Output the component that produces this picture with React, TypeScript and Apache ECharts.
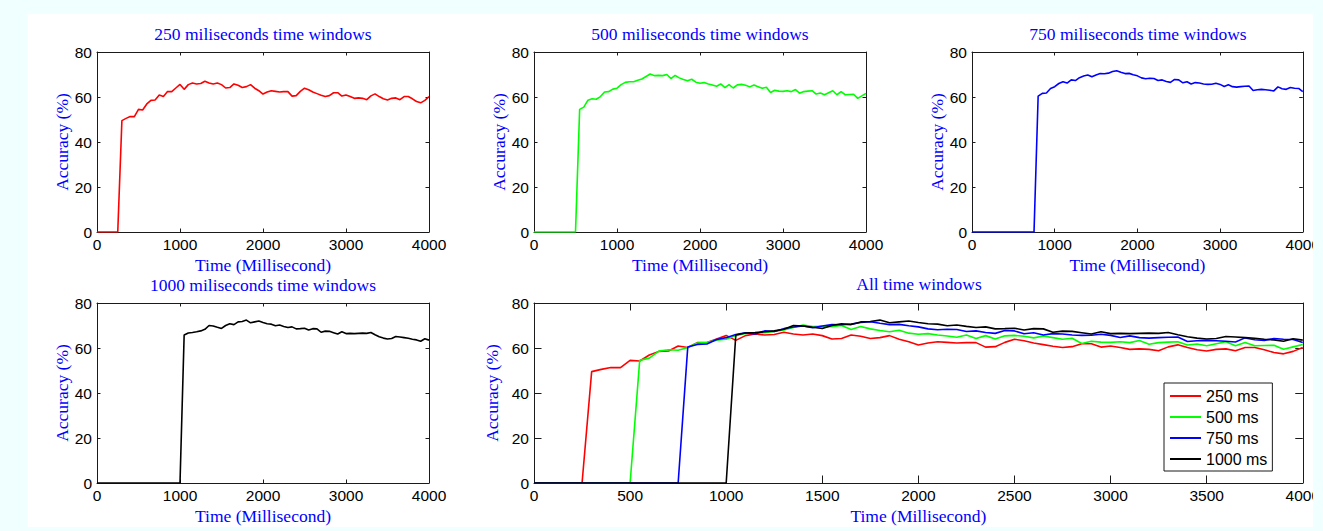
import React, { useEffect, useRef } from "react";
import * as echarts from "echarts";

// ---------- data ----------
const TIME = [
  0, 50, 100, 150, 200, 250, 300, 350, 400, 450,
  500, 550, 600, 650, 700, 750, 800, 850, 900, 950,
  1000, 1050, 1100, 1150, 1200, 1250, 1300, 1350, 1400, 1450,
  1500, 1550, 1600, 1650, 1700, 1750, 1800, 1850, 1900, 1950,
  2000, 2050, 2100, 2150, 2200, 2250, 2300, 2350, 2400, 2450,
  2500, 2550, 2600, 2650, 2700, 2750, 2800, 2850, 2900, 2950,
  3000, 3050, 3100, 3150, 3200, 3250, 3300, 3350, 3400, 3450,
  3500, 3550, 3600, 3650, 3700, 3750, 3800, 3850, 3900, 3950,
  4000,
];

const ACC_250 = [
  0, 0, 0, 0, 0, 0, 49.5, 50.5, 51.3, 51.3,
  54.5, 54.2, 56.9, 58.5, 58.7, 60.9, 60.2, 62.4, 62.4, 64.0,
  65.6, 63.4, 65.5, 66.2, 65.8, 66.0, 67.0, 66.2, 65.8, 66.2,
  65.5, 64.0, 64.2, 65.8, 65.2, 64.2, 64.6, 65.5, 63.9, 62.8,
  61.3, 62.2, 62.8, 62.5, 62.2, 62.4, 62.4, 60.4, 60.6, 62.5,
  63.9, 63.2, 62.2, 61.5, 60.8, 60.2, 60.6, 61.9, 61.9, 60.4,
  60.9, 60.2, 59.4, 59.6, 59.4, 58.8, 60.5, 61.4, 60.2, 59.2,
  58.7, 59.4, 59.6, 58.8, 60.2, 60.2, 59.2, 58.0, 57.4, 58.5,
  60.2,
];

const ACC_500 = [
  0, 0, 0, 0, 0, 0, 0, 0, 0, 0,
  0, 54.5, 55.5, 58.6, 59.2, 59.0, 60.2, 62.2, 62.4, 63.5,
  63.9, 65.5, 66.5, 66.8, 66.8, 67.4, 68.0, 69.1, 70.2, 69.5,
  69.6, 69.5, 70.0, 68.2, 69.6, 68.5, 67.8, 67.2, 67.9, 66.6,
  66.1, 66.4, 65.8, 65.3, 64.8, 65.8, 64.2, 65.5, 64.0, 65.4,
  65.6, 65.2, 64.5, 65.3, 64.6, 63.9, 64.3, 62.0, 63.0, 62.6,
  62.5, 62.8, 62.4, 63.3, 61.7, 62.4, 62.6, 62.8, 61.3, 61.8,
  61.0, 61.9, 62.8, 61.0, 62.4, 61.0, 61.1, 61.2, 59.4, 60.5,
  61.6,
];

const ACC_750 = [
  0, 0, 0, 0, 0, 0, 0, 0, 0, 0,
  0, 0, 0, 0, 0, 0, 60.4, 61.6, 61.8, 63.8,
  64.6, 66.0, 66.8, 66.2, 67.6, 67.3, 68.6, 69.3, 69.8, 69.0,
  69.8, 70.4, 70.3, 70.6, 71.3, 71.7, 71.0, 70.4, 70.5, 69.9,
  69.4, 68.5, 68.1, 68.3, 68.2, 67.3, 67.6, 66.9, 66.5, 67.8,
  67.6, 66.3, 66.8, 65.8, 66.4, 66.2, 65.8, 65.6, 65.7, 66.1,
  65.6, 64.7, 65.4, 64.6, 64.4, 64.6, 64.8, 64.9, 62.9, 63.2,
  63.4, 63.2, 63.0, 62.7, 64.5, 63.7, 63.4, 64.2, 63.9, 63.8,
  62.4,
];

const ACC_1000 = [
  0, 0, 0, 0, 0, 0, 0, 0, 0, 0,
  0, 0, 0, 0, 0, 0, 0, 0, 0, 0,
  0, 65.8, 66.7, 66.9, 67.2, 67.6, 68.3, 70.0, 69.8, 69.2,
  68.7, 70.0, 70.8, 70.4, 71.6, 71.8, 72.4, 71.2, 71.6, 72.0,
  71.3, 70.8, 70.6, 69.9, 70.2, 69.6, 69.1, 69.4, 68.5, 68.6,
  68.8, 68.0, 68.6, 68.5, 67.0, 67.5, 67.4, 66.8, 66.2, 67.2,
  66.4, 66.5, 66.4, 66.5, 66.6, 66.5, 66.9, 65.9, 65.0, 64.4,
  64.0, 64.2, 65.1, 64.9, 64.6, 64.3, 63.9, 63.6, 63.0, 64.1,
  63.5,
];

const SERIES_NAMES = ["250 ms", "500 ms", "750 ms", "1000 ms"];
const PANEL_TITLES = [
  "250 miliseconds time windows",
  "500 miliseconds time windows",
  "750 miliseconds time windows",
  "1000 miliseconds time windows",
  "All time windows",
];
const X_NAME = "Time (Millisecond)";
const Y_NAME = "Accuracy (%)";
const X_MAX = 4000;
const Y_MAX = 80;
const Y_STEP = 20;
const X_STEP_SMALL = 1000;
const X_STEP_BIG = 500;

// ---------- styling / layout ----------
const COLORS = ["#ff0000", "#00ff00", "#0000ff", "#000000"];
const BLUE_TEXT = "#0000ff";
const SERIF = "'Liberation Serif', 'Times New Roman', serif";
const SANS = "'Liberation Sans', Arial, Helvetica, sans-serif";
const BORDER = "#f0ffff";
const AXIS_COLOR = "#1a1a1a";

const GRIDS = [
  { left: 97, top: 52, width: 332, height: 180 },
  { left: 534, top: 52, width: 332, height: 180 },
  { left: 972, top: 52, width: 332, height: 180 },
  { left: 97, top: 303, width: 332, height: 180 },
  { left: 534, top: 303, width: 770, height: 180 },
];

const ALL_SERIES = [ACC_250, ACC_500, ACC_750, ACC_1000];

const plain = (v: number) => String(v);

function buildOption() {
  const grid = GRIDS.map((g) => ({ ...g, containLabel: false }));
  const xAxis: any[] = [];
  const yAxis: any[] = [];
  const axisLine = { show: true, onZero: false, lineStyle: { color: AXIS_COLOR, width: 1 } };

  GRIDS.forEach((g, i) => {
    const big = i === 4;
    const tickLen = big ? 7.5 : 3.5;
    const interval = big ? X_STEP_BIG : X_STEP_SMALL;
    const tick = { show: true, inside: true, length: tickLen, lineStyle: { color: AXIS_COLOR } };
    xAxis.push({
      type: "value",
      gridIndex: i,
      position: "bottom",
      min: 0,
      max: X_MAX,
      interval,
      axisLine,
      axisTick: tick,
      axisLabel: { show: true, margin: 4, fontFamily: SANS, fontSize: 15.5, color: "#000", formatter: plain },
      splitLine: { show: false },
      name: X_NAME,
      nameLocation: "middle",
      nameGap: 24,
      nameTextStyle: { fontFamily: SERIF, fontSize: 17.5, color: BLUE_TEXT },
    });
    xAxis.push({
      type: "value",
      gridIndex: i,
      position: "top",
      min: 0,
      max: X_MAX,
      interval,
      axisLine,
      axisTick: tick,
      axisLabel: { show: false },
      splitLine: { show: false },
    });
    yAxis.push({
      type: "value",
      gridIndex: i,
      position: "left",
      min: 0,
      max: Y_MAX,
      interval: Y_STEP,
      axisLine,
      axisTick: tick,
      axisLabel: { show: true, margin: 5, fontFamily: SANS, fontSize: 15.5, color: "#000", formatter: plain },
      splitLine: { show: false },
      name: Y_NAME,
      nameLocation: "middle",
      nameGap: 26.5,
      nameTextStyle: { fontFamily: SERIF, fontSize: 17.5, color: BLUE_TEXT },
    });
    yAxis.push({
      type: "value",
      gridIndex: i,
      position: "right",
      min: 0,
      max: Y_MAX,
      interval: Y_STEP,
      axisLine,
      axisTick: tick,
      axisLabel: { show: false },
      splitLine: { show: false },
    });
  });

  const makeSeries = (k: number, panel: number, name: string) => ({
    type: "line",
    name,
    xAxisIndex: panel * 2,
    yAxisIndex: panel * 2,
    data: TIME.map((t, j) => [t, ALL_SERIES[k][j]]),
    symbol: "none",
    showSymbol: false,
    color: COLORS[k],
    itemStyle: { color: COLORS[k] },
    lineStyle: { color: COLORS[k], width: 1.6 },
    clip: true,
    z: 3 + k,
  });

  const series: any[] = [];
  for (let k = 0; k < 4; k++) series.push(makeSeries(k, k, "single " + SERIES_NAMES[k]));
  for (let k = 0; k < 4; k++) series.push(makeSeries(k, 4, SERIES_NAMES[k]));

  const titleY = [33.5, 33.5, 33.5, 285, 284];
  const graphic: any[] = GRIDS.map((g, i) => ({
    type: "text",
    x: g.left + g.width / 2,
    y: titleY[i],
    silent: true,
    style: {
      text: PANEL_TITLES[i],
      fill: BLUE_TEXT,
      fontFamily: SERIF,
      fontSize: 17.5,
      align: "center",
      verticalAlign: "middle",
    },
  }));
  // light border frame (drawn on top, clips overflowing labels)
  graphic.push(
    { type: "rect", z: 100, silent: true, shape: { x: 0, y: 0, width: 1323, height: 14 }, style: { fill: BORDER } },
    { type: "rect", z: 100, silent: true, shape: { x: 0, y: 0, width: 28, height: 531 }, style: { fill: BORDER } },
    { type: "rect", z: 100, silent: true, shape: { x: 1313, y: 0, width: 10, height: 531 }, style: { fill: BORDER } },
    { type: "rect", z: 100, silent: true, shape: { x: 0, y: 527, width: 1323, height: 4 }, style: { fill: BORDER } }
  );

  return {
    animation: false,
    backgroundColor: "#ffffff",
    grid,
    xAxis,
    yAxis,
    series,
    legend: {
      data: SERIES_NAMES,
      orient: "vertical",
      left: 1164,
      top: 383,
      icon: "rect",
      itemWidth: 31,
      itemHeight: 2,
      itemGap: 5,
      padding: [5, 5, 4, 6],
      itemStyle: { borderWidth: 0 },
      backgroundColor: "#ffffff",
      borderColor: AXIS_COLOR,
      borderWidth: 1,
      borderRadius: 0,
      selectedMode: false,
      textStyle: { fontFamily: SANS, fontSize: 16, color: "#000" },
    },
    graphic,
  };
}

export default function App() {
  const ref = useRef<HTMLDivElement>(null);
  useEffect(() => {
    document.body.style.margin = "0";
    if (!ref.current) return;
    const chart = echarts.init(ref.current, null, { renderer: "svg", width: 1323, height: 531 });
    chart.setOption(buildOption() as any);
    return () => chart.dispose();
  }, []);
  return <div ref={ref} style={{ width: 1323, height: 531 }} />;
}
